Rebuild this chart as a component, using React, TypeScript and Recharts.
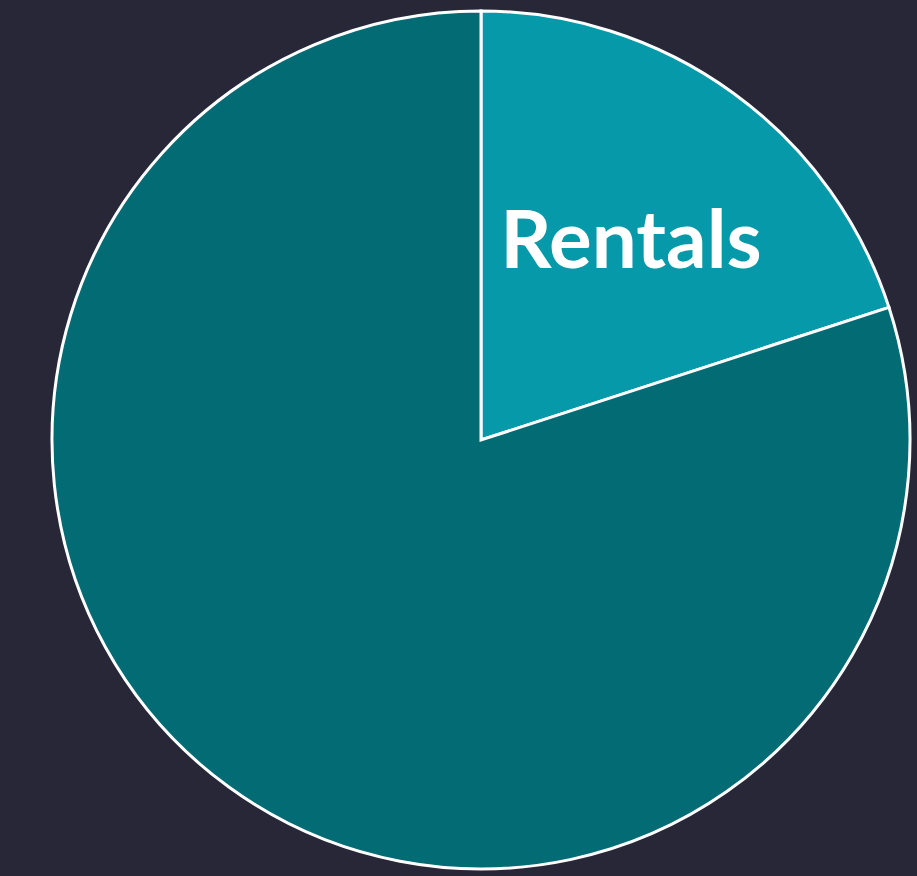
import React from "react";
import { PieChart, Pie, Cell } from "recharts";

const categories = ["Rentals", "Other"];
const values = [20, 80];
const colors = ["#0599a9", "#036b74"];
const showLabel = [true, false];

const data = categories.map((name, i) => ({ name, value: values[i] }));

const RAD = Math.PI / 180;

const renderLabel = (props: any) => {
  const { cx, cy, midAngle, outerRadius, index, name } = props;
  if (!showLabel[index]) return null;
  const r = outerRadius * 0.595;
  const x = cx + r * Math.cos(-midAngle * RAD);
  const y = cy + r * Math.sin(-midAngle * RAD);
  return (
    <text
      x={x}
      y={y}
      dy={4}
      fill="#ffffff"
      textAnchor="middle"
      dominantBaseline="central"
      fontFamily="Lato, 'Open Sans', sans-serif"
      fontWeight="bold"
      fontSize={80}
    >
      {name}
    </text>
  );
};

export default function App() {
  return (
    <div
      style={{
        position: "fixed",
        left: 0,
        top: 0,
        width: 917,
        height: 876,
        background: "#282737",
      }}
    >
      <PieChart width={917} height={876} margin={{ top: 0, right: 0, bottom: 0, left: 0 }}>
        <Pie
          data={data}
          dataKey="value"
          nameKey="name"
          cx={481}
          cy={440}
          outerRadius={429}
          startAngle={90}
          endAngle={-270}
          stroke="#ffffff"
          strokeWidth={3}
          label={renderLabel}
          labelLine={false}
          isAnimationActive={false}
        >
          {data.map((d, i) => (
            <Cell key={d.name} fill={colors[i]} />
          ))}
        </Pie>
      </PieChart>
    </div>
  );
}
